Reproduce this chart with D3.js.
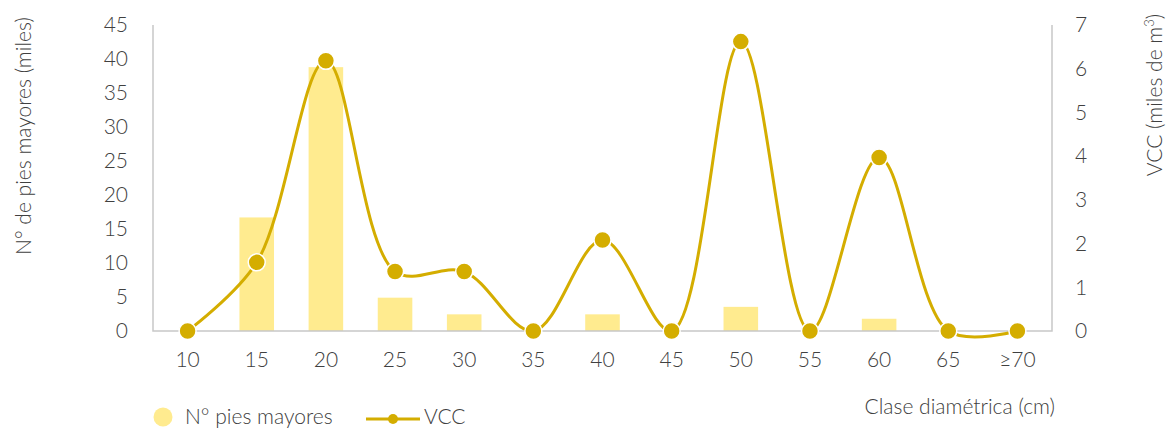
<!DOCTYPE html>
<html><head><meta charset="utf-8">
<script src="https://cdn.jsdelivr.net/npm/d3@7"></script>
<style>body{margin:0;background:#fff}svg{display:block;font-family:Lato,sans-serif;font-weight:300}</style>
</head><body><svg id="c" width="1166" height="428"></svg>
<script>
const categories = ["10","15","20","25","30","35","40","45","50","55","60","65","≥70"];
const piesMayores = [0,16.7,38.8,4.9,2.45,0,2.45,0,3.55,0,1.8,0,0];
const vcc = [0,1.57,6.18,1.36,1.36,0,2.08,0,6.62,0,3.97,0,0];
const leftTicks = [0,5,10,15,20,25,30,35,40,45];
const rightTicks = [0,1,2,3,4,5,6,7];

const svg = d3.select("#c");
const L = 153, R = 1052, T = 25, B = 331;
const textCol = "#404040", axisCol = "#c8c8c8", lineCol = "#d4ad00", barCol = "#ffeb8f";
const FS = 21;

const x = d3.scaleBand().domain(categories).range([L, R]).paddingInner(0.5).paddingOuter(0.25);
const xc = d => x(d) + x.bandwidth()/2;
const yL = d3.scaleLinear().domain([0,45]).range([B, T]);
const yR = d3.scaleLinear().domain([0,7]).range([B, T]);

svg.append("g").selectAll("rect").data(categories).join("rect")
  .attr("x", d => x(d)).attr("width", x.bandwidth())
  .attr("y", (d,i) => yL(piesMayores[i])).attr("height", (d,i) => B - yL(piesMayores[i]))
  .attr("fill", barCol);

const ax = svg.append("g").attr("stroke", axisCol).attr("stroke-width", 1.5).attr("fill","none");
ax.append("path").attr("d", `M${L},${T}V${B}H${R}V${T}`);

function styleTicks(g){
  g.select(".domain").remove();
  g.selectAll("text").attr("font-size", FS).attr("fill", textCol).attr("font-family","Lato").attr("font-weight",300);
}
const gL = svg.append("g").attr("transform", `translate(${L},0)`)
  .call(d3.axisLeft(yL).tickValues(leftTicks).tickSize(0).tickPadding(25));
styleTicks(gL);
const gR = svg.append("g").attr("transform", `translate(${R},0)`)
  .call(d3.axisRight(yR).tickValues(rightTicks).tickFormat(d3.format("d")).tickSize(0).tickPadding(23));
styleTicks(gR);
const gX = svg.append("g").attr("transform", `translate(0,${B})`)
  .call(d3.axisBottom(x).tickSize(0).tickPadding(21));
styleTicks(gX);

const line = d3.line().x((d,i) => xc(categories[i])).y(d => yR(d)).curve(d3.curveCatmullRom.alpha(0.5));
svg.append("path").datum(vcc).attr("d", line).attr("fill","none").attr("stroke", lineCol).attr("stroke-width", 3);
svg.append("g").selectAll("circle").data(vcc).join("circle")
  .attr("cx", (d,i) => xc(categories[i])).attr("cy", d => yR(d)).attr("r", 8.5)
  .attr("fill", lineCol).attr("stroke", "#fff").attr("stroke-width", 1.5);

svg.append("text").attr("transform", "translate(31,136) rotate(-90)").attr("text-anchor","middle")
  .attr("font-size", FS).attr("fill", textCol).text("N° de pies mayores (miles)");
const rt = svg.append("text").attr("transform", "translate(1162,95) rotate(-90)").attr("text-anchor","middle")
  .attr("font-size", FS).attr("fill", textCol);
rt.append("tspan").text("VCC (miles de m");
rt.append("tspan").attr("font-size", 13).attr("dy", -8).text("3");
rt.append("tspan").attr("dy", 8).text(")");
svg.append("text").attr("x", 1055).attr("y", 414).attr("text-anchor","end")
  .attr("font-size", FS).attr("fill", textCol).text("Clase diamétrica (cm)");

const lg = svg.append("g");
lg.append("circle").attr("cx", 163).attr("cy", 417).attr("r", 9.5).attr("fill", barCol);
lg.append("text").attr("x", 185).attr("y", 424).attr("font-size", FS).attr("fill", textCol).text("N° pies mayores");
lg.append("line").attr("x1", 366).attr("x2", 420).attr("y1", 419).attr("y2", 419).attr("stroke", lineCol).attr("stroke-width", 3);
lg.append("circle").attr("cx", 393).attr("cy", 419).attr("r", 5).attr("fill", lineCol);
lg.append("text").attr("x", 424).attr("y", 424).attr("font-size", FS).attr("fill", textCol).text("VCC");
</script></body></html>
